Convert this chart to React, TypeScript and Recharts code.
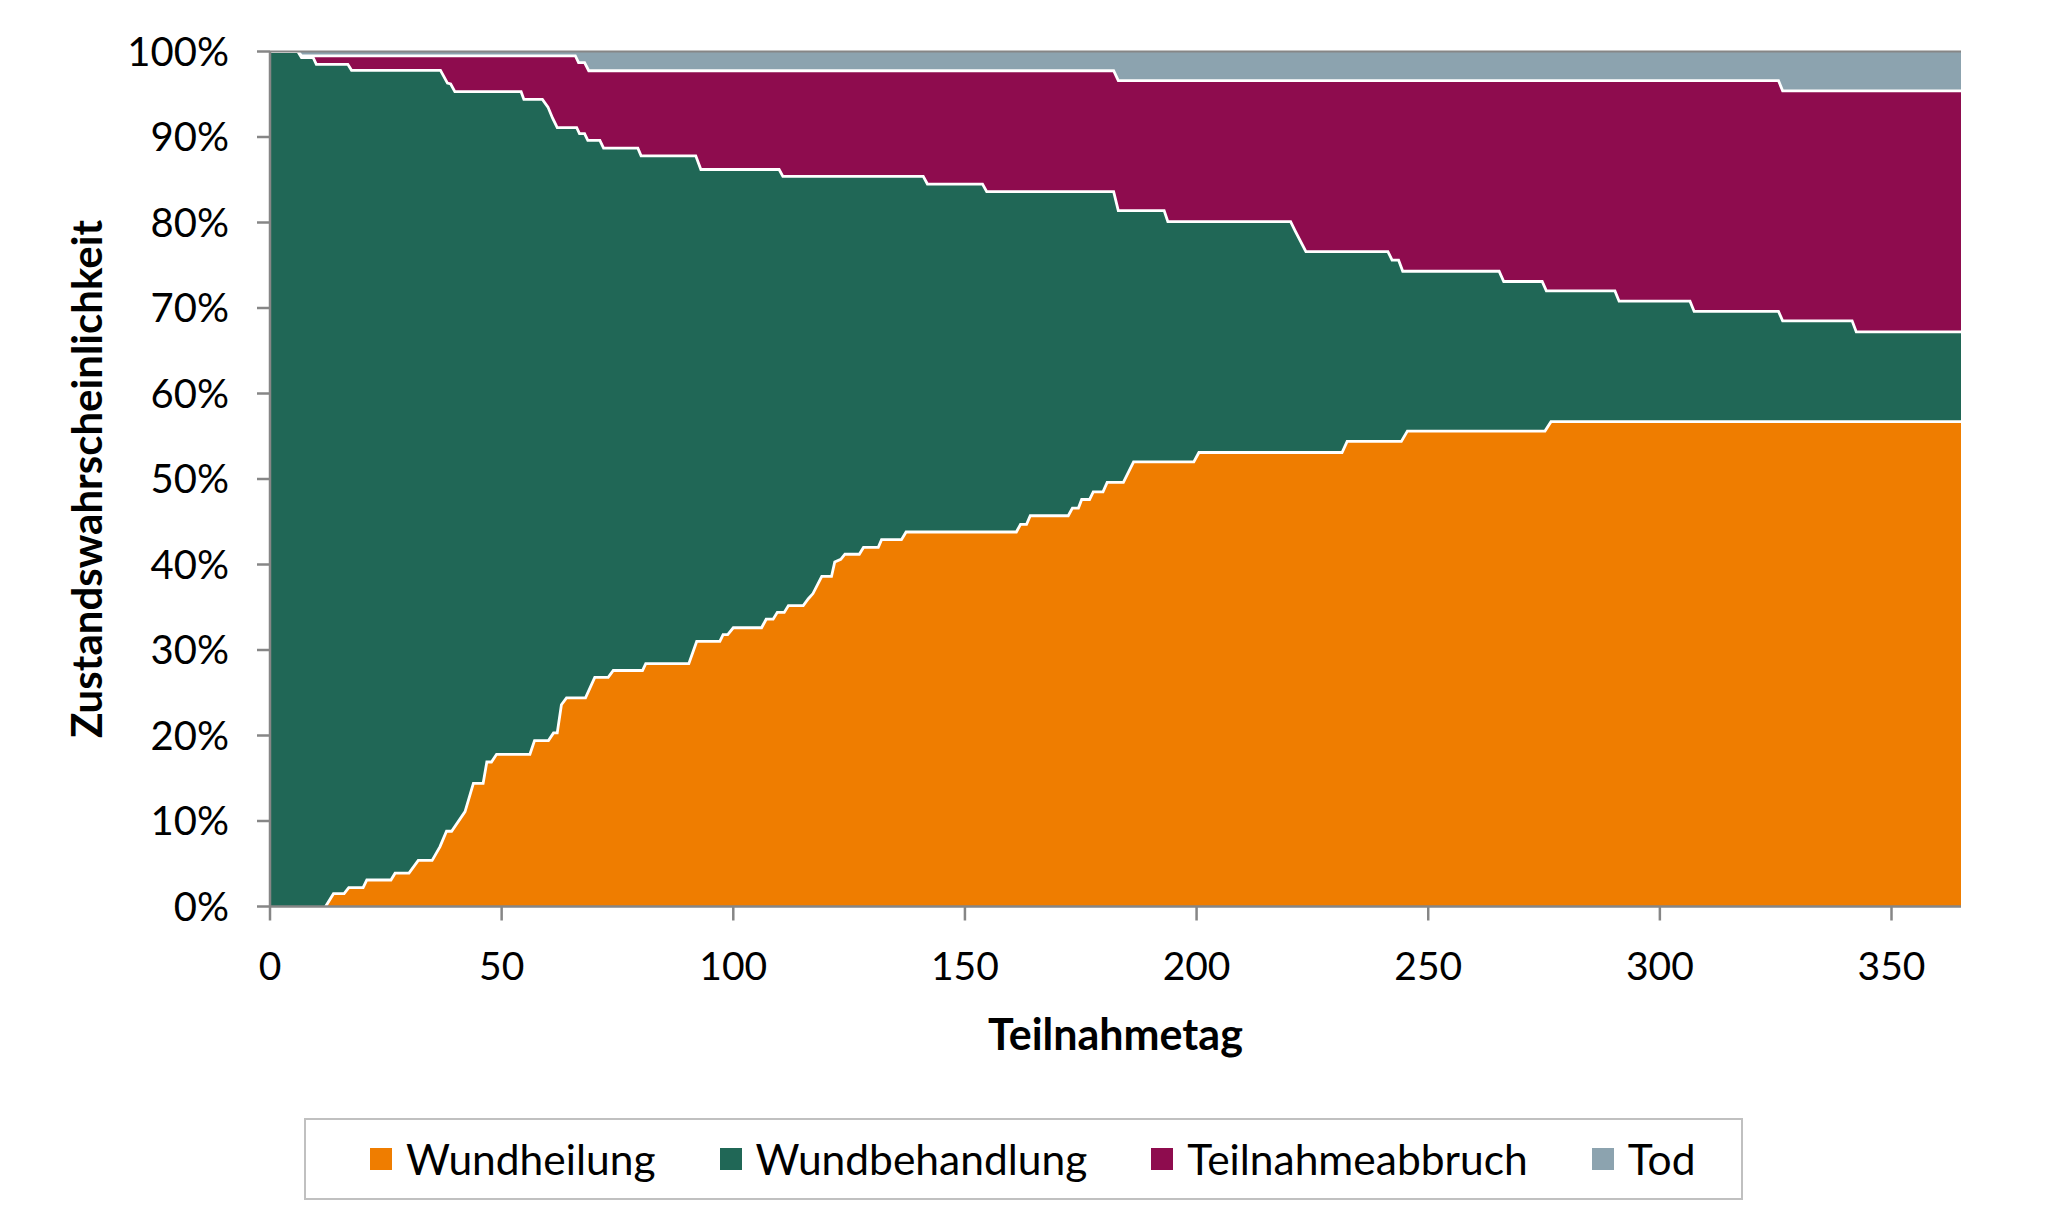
import React from 'react';
import { AreaChart, Area, XAxis, YAxis, ReferenceLine } from 'recharts';

// Boundary curves (cumulative state probabilities in %, by Teilnahmetag)
// Wundheilung (bottom layer)
const wundheilungKurve: [number, number][] = [
  [12, 0], [13.7, 1.5], [16, 1.5], [17, 2.2], [20.1, 2.2], [20.9, 3.1], [26.1, 3.1], [27, 3.9],
  [30, 3.9], [32, 5.4], [35, 5.4], [36.7, 7.0], [38.1, 8.8], [39.2, 8.8], [42.1, 11.1], [43.9, 14.4],
  [46, 14.4], [46.8, 16.9], [47.8, 16.9], [48.9, 17.8], [56.1, 17.8], [57.1, 19.4], [60.1, 19.4],
  [61.2, 20.3], [62, 20.3], [62.9, 23.6], [64, 24.4], [68.1, 24.4], [70.1, 26.8], [73, 26.8],
  [74.1, 27.6], [80.4, 27.6], [81.1, 28.4], [90.4, 28.4], [92.1, 31.0], [97.1, 31.0], [97.8, 31.8],
  [98.8, 31.8], [100, 32.6], [106.1, 32.6], [107.1, 33.6], [108.6, 33.6], [109.5, 34.4], [111, 34.4],
  [111.9, 35.2], [115.1, 35.2], [116.2, 36.0], [117.2, 36.6], [119.1, 38.6], [121.2, 38.6],
  [121.9, 40.3], [123.2, 40.6], [124.1, 41.2], [127.2, 41.2], [128.1, 42.0], [131.3, 42.0],
  [132, 42.9], [136.3, 42.9], [137.3, 43.8], [161.1, 43.8], [162, 44.7], [163.3, 44.7], [164.1, 45.7],
  [172.3, 45.7], [173.2, 46.6], [174.5, 46.6], [175.2, 47.6], [176.9, 47.6], [177.7, 48.5],
  [179.8, 48.5], [180.7, 49.6], [184.2, 49.6], [186.4, 52.0], [199.4, 52.0], [200.5, 53.1],
  [231.4, 53.1], [232.5, 54.4], [244.2, 54.4], [245.5, 55.6], [275.2, 55.6], [276.5, 56.7], [365, 56.7],
];

// Wundheilung + Wundbehandlung
const wundbehandlungKurve: [number, number][] = [
  [0, 100], [6, 100], [6.8, 99.3], [9.3, 99.3], [10, 98.5], [16.8, 98.5], [17.6, 97.8], [36.8, 97.8],
  [38.3, 96.3], [39, 96.2], [39.9, 95.3], [54.2, 95.3], [54.8, 94.4], [58.8, 94.4], [60, 93.5],
  [61, 92.2], [62, 91.1], [66.2, 91.1], [66.8, 90.4], [67.9, 90.4], [68.6, 89.6], [71.2, 89.6],
  [72, 88.7], [79.4, 88.7], [80.1, 87.8], [91.9, 87.8], [93, 86.2], [109.9, 86.2], [110.7, 85.4],
  [141, 85.4], [141.9, 84.5], [153.8, 84.5], [154.7, 83.6], [182.1, 83.6], [183.1, 81.4], [193, 81.4],
  [193.8, 80.1], [220.3, 80.1], [221.3, 79.0], [223.6, 76.6], [241.3, 76.6], [242.2, 75.6],
  [243.6, 75.6], [244.5, 74.3], [265.3, 74.3], [266.3, 73.1], [274.6, 73.1], [275.5, 72.0],
  [290.3, 72.0], [291.2, 70.8], [306.5, 70.8], [307.4, 69.6], [325.6, 69.6], [326.5, 68.5],
  [341.5, 68.5], [342.4, 67.2], [365, 67.2],
];

// Wundheilung + Wundbehandlung + Teilnahmeabbruch (= 100 - Tod)
const teilnahmeabbruchKurve: [number, number][] = [
  [0, 100], [6, 100], [6.8, 99.5], [65.9, 99.5], [66.6, 98.7], [67.9, 98.7], [68.8, 97.75],
  [182.1, 97.75], [183.1, 96.6], [325.6, 96.6], [326.5, 95.4], [365, 95.4],
];

// Tod (top layer reaches 100 %)
const todKurve: [number, number][] = [
  [0, 100], [365, 100],
];

const xTicks = [0, 50, 100, 150, 200, 250, 300, 350];
const yTicks = [0, 10, 20, 30, 40, 50, 60, 70, 80, 90, 100];

const seriesNames = ['Wundheilung', 'Wundbehandlung', 'Teilnahmeabbruch', 'Tod'];
const seriesColors = ['#EF7D00', '#206756', '#8E0C4E', '#8CA3AF'];

const toData = (pts: [number, number][]) => pts.map(([day, value]) => ({ day, value }));

const FONT = "Lato, 'Open Sans', sans-serif";
const AXIS = '#868686';

const YTitle = (props: any) => {
  const vb = props.viewBox || { x: 20, y: 51.5, width: 250, height: 855 };
  const x = vb.x + 82;
  const y = vb.y + vb.height / 2;
  return (
    <text x={x} y={y} transform={`rotate(-90, ${x}, ${y})`} textAnchor="middle"
      fontFamily={FONT} fontWeight="bold" fontSize={42} fill="#000">
      Zustandswahrscheinlichkeit
    </text>
  );
};

const XTitle = (props: any) => {
  const vb = props.viewBox || { x: 270, y: 906.5, width: 1691, height: 100 };
  const x = vb.x + vb.width / 2;
  const y = vb.y + 143;
  return (
    <text x={x} y={y} textAnchor="middle" fontFamily={FONT} fontWeight="bold" fontSize={43} fill="#000">
      Teilnahmetag
    </text>
  );
};

const LegendBox = () => (
  <div style={{
    position: 'absolute', left: 304, top: 1118, width: 1439, height: 82, boxSizing: 'border-box',
    border: '2.5px solid #C0C0C0', background: '#fff', display: 'flex', alignItems: 'center',
    paddingLeft: 64, fontFamily: FONT, fontSize: 42.5, color: '#000',
  }}>
    {seriesNames.map((name, i) => (
      <div key={name} style={{ display: 'flex', alignItems: 'center', marginRight: i < seriesNames.length - 1 ? 64 : 0 }}>
        <div style={{ width: 22, height: 22, background: seriesColors[i], marginRight: 14 }} />
        <span style={{ lineHeight: 1 }}>{name}</span>
      </div>
    ))}
  </div>
);

export default function App() {
  const layers = [
    { data: toData(todKurve), color: seriesColors[3], name: seriesNames[3], stroke: 'none' },
    { data: toData(teilnahmeabbruchKurve), color: seriesColors[2], name: seriesNames[2], stroke: '#fff' },
    { data: toData(wundbehandlungKurve), color: seriesColors[1], name: seriesNames[1], stroke: '#fff' },
    { data: toData(wundheilungKurve), color: seriesColors[0], name: seriesNames[0], stroke: '#fff' },
  ];
  return (
    <div style={{ position: 'absolute', left: 0, top: 0, width: 2048, height: 1228, background: '#fff', fontFamily: FONT }}>
      <AreaChart width={2048} height={1228} margin={{ top: 51.5, right: 87, left: 20, bottom: 221.5 }}>
        <XAxis
          type="number" dataKey="day" domain={[0, 365]} ticks={xTicks} interval={0}
          allowDataOverflow height={100}
          axisLine={{ stroke: AXIS, strokeWidth: 2.5 }} tickLine={{ stroke: AXIS, strokeWidth: 2.5 }}
          tickSize={14} tickMargin={32}
          tick={{ fontSize: 39, fill: '#000', fontFamily: FONT }}
          label={{ content: XTitle }}
        />
        <YAxis
          type="number" domain={[0, 100]} ticks={yTicks} interval={0} width={250}
          tickFormatter={(v: number) => `${v}%`}
          axisLine={{ stroke: AXIS, strokeWidth: 2.5 }} tickLine={{ stroke: AXIS, strokeWidth: 2.5 }}
          tickSize={13} tickMargin={28}
          tick={{ fontSize: 40, fill: '#000', fontFamily: FONT }}
          label={{ content: YTitle }}
        />
        {layers.map((l) => (
          <Area
            key={l.name}
            data={l.data}
            dataKey="value"
            name={l.name}
            type="linear"
            fill={l.color}
            fillOpacity={1}
            stroke={l.stroke}
            strokeWidth={2.8}
            isAnimationActive={false}
            dot={false}
            activeDot={false}
          />
        ))}
        <ReferenceLine y={100} stroke={AXIS} strokeWidth={2} />
      </AreaChart>
      <LegendBox />
    </div>
  );
}
